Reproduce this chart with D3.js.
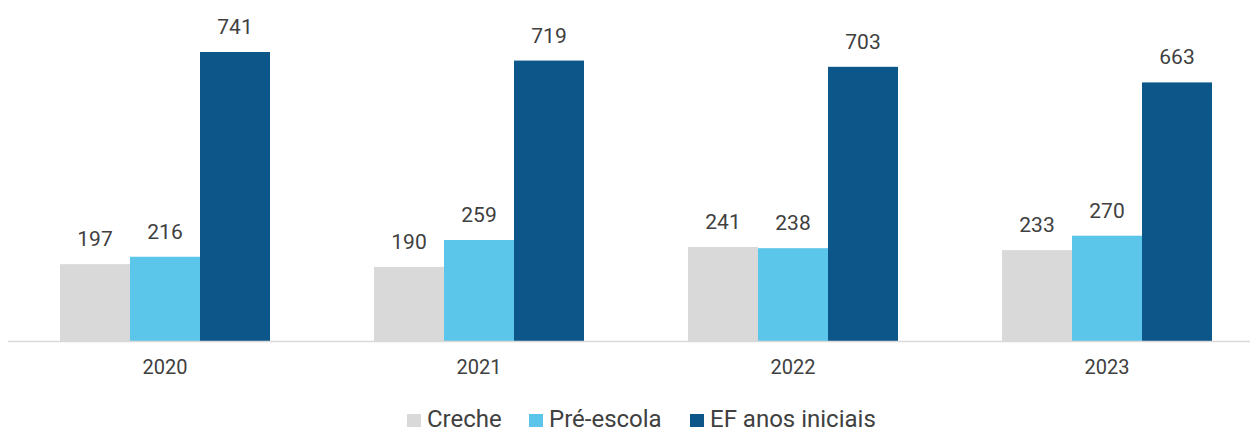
<!DOCTYPE html>
<html>
<head>
<meta charset="utf-8">
<script src="https://cdn.jsdelivr.net/npm/d3@7"></script>
<style>
  body { margin: 0; background: #fff; }
  svg { display: block; font-family: Roboto, "Noto Sans", sans-serif; }
</style>
</head>
<body>
<svg id="chart"></svg>
<script>
const years = ["2020", "2021", "2022", "2023"];
const seriesNames = ["Creche", "Pré-escola", "EF anos iniciais"];
const creche = [197, 190, 241, 233];
const preEscola = [216, 259, 238, 270];
const efIniciais = [741, 719, 703, 663];

const width = 1250, height = 428;
const colors = ["#d9d9d9", "#5bc5ea", "#0c5689"];
const values = [creche, preEscola, efIniciais];

const svg = d3.select("#chart").attr("width", width).attr("height", height);

// outer band per year, inner band per series
const x = d3.scaleBand().domain(years).range([8, 1264])
  .paddingInner(0.3312).paddingOuter(0.1656);
const xs = d3.scaleBand().domain(seriesNames).range([0, x.bandwidth()]);
const y = d3.scaleLinear().domain([0, 800]).range([341, 341 - 800 * 289 / 741]);

const rows = years.map((yr, i) => ({
  year: yr,
  vals: seriesNames.map((s, j) => ({ key: s, value: values[j][i], color: colors[j] }))
}));

const groups = svg.selectAll("g.year").data(rows).join("g")
  .attr("class", "year")
  .attr("transform", d => `translate(${x(d.year)},0)`);

groups.selectAll("rect").data(d => d.vals).join("rect")
  .attr("x", d => xs(d.key))
  .attr("width", xs.bandwidth())
  .attr("y", d => y(d.value))
  .attr("height", d => y(0) - y(d.value))
  .attr("fill", d => d.color);

groups.selectAll("text.val").data(d => d.vals).join("text")
  .attr("class", "val")
  .attr("x", d => xs(d.key) + xs.bandwidth() / 2)
  .attr("y", d => y(d.value) - 18)
  .attr("text-anchor", "middle")
  .attr("font-size", 21)
  .attr("fill", "#404040")
  .text(d => d.value);

// x axis
const xAxis = svg.append("g").attr("transform", `translate(0,${y(0) + 0.5})`)
  .call(d3.axisBottom(x).tickSize(0).tickPadding(18));
xAxis.select(".domain").attr("d", `M8,0H${width}`).attr("stroke", "#d9d9d9").attr("stroke-width", 1.5);
xAxis.selectAll("text").attr("font-size", 20).attr("fill", "#404040")
  .attr("font-family", "Roboto, sans-serif");

// legend
const legendX = [407, 529, 690];
const legend = svg.append("g").selectAll("g").data(seriesNames).join("g")
  .attr("transform", (d, i) => `translate(${legendX[i]},414)`);
legend.append("rect").attr("width", 14).attr("height", 13).attr("fill", (d, i) => colors[i]);
legend.append("text").attr("x", 20).attr("y", 13)
  .attr("font-size", 24).attr("fill", "#404040").text(d => d);
</script>
</body>
</html>
